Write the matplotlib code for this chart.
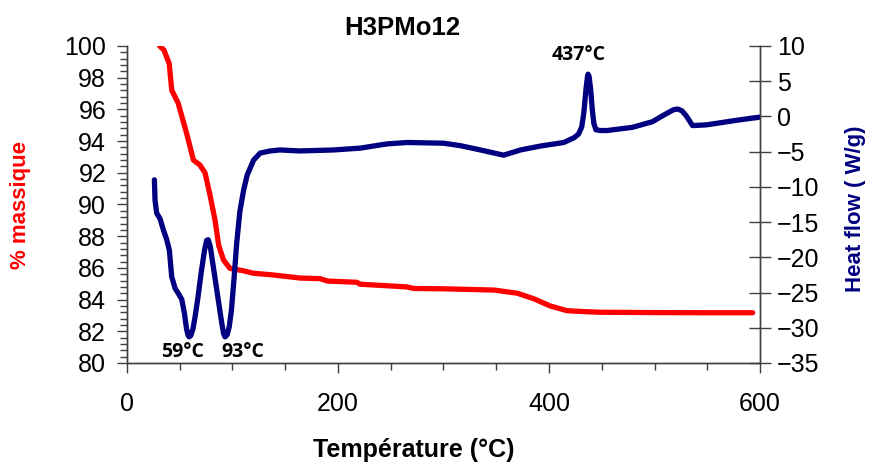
import numpy as np
import matplotlib
matplotlib.use('Agg')
import matplotlib.pyplot as plt
from matplotlib.ticker import MultipleLocator

# TGA curve: temperature (C) vs mass (%)
T_tga = [31, 35, 40, 42.5, 48.5, 56.5, 63, 69, 74, 79, 83.5, 87, 91.5, 97.5,
         110, 120, 139, 164, 183, 190, 218, 221, 265, 272, 300, 348, 370,
         386, 401, 417, 433, 449, 500, 550, 593]
m_tga = [100, 99.75, 98.9, 97.2, 96.4, 94.5, 92.8, 92.5, 92.0, 90.5, 89.0,
         87.4, 86.5, 85.97, 85.82, 85.66, 85.55, 85.36, 85.32, 85.17, 85.09,
         84.97, 84.8, 84.7, 84.68, 84.6, 84.4, 84.04, 83.6, 83.3, 83.24, 83.2,
         83.18, 83.17, 83.17]

# DSC curve: temperature (C) vs heat flow (W/g)
T_dsc = [26, 26.6, 28.2, 31.3, 34.5, 37.7, 40.2, 42.4, 45.6, 49, 52, 54.5,
         56.5, 58, 59, 60.5, 62.5, 64.5, 67, 70.5, 73.5, 75.5, 77, 79, 82, 86,
         89.5, 91.5, 93, 95, 97, 99, 101.5, 104, 107, 110.5, 114, 120, 126.3,
         135.8, 145, 164, 196, 221, 246.5, 265.5, 300, 316, 335, 357, 373, 392,
         414, 424, 428, 431, 433, 435, 436.5, 437, 438, 439.5, 441, 442.5,
         444.5, 449, 455, 479, 498, 510, 518, 522, 526, 530, 536, 549, 580,
         600]
h_dsc = [-9.0, -11.9, -13.75, -14.5, -16.1, -17.5, -19.0, -22.75, -24.4,
         -25.2, -26.0, -28.0, -30.2, -31.1, -31.3, -31.1, -30.2, -28.5, -26.0,
         -22.0, -19.0, -17.6, -17.5, -18.5, -21.5, -25.5, -29.0, -30.8, -31.3,
         -31.0, -29.8, -27.5, -23.0, -18.0, -13.5, -10.5, -8.3, -6.2, -5.2,
         -4.9, -4.76, -4.9, -4.76, -4.5, -3.9, -3.7, -3.8, -4.15, -4.76, -5.5,
         -4.76, -4.2, -3.7, -3.0, -2.5, -1.5, 0.5, 3.8, 5.7, 6.0, 5.7, 3.8,
         1.0, -1.0, -1.9, -2.0, -2.0, -1.55, -0.75, 0.3, 0.95, 1.05, 0.8, 0.1,
         -1.3, -1.2, -0.5, -0.1]

peak_T = [59, 93, 437]
peak_lbl_xy = [(53, -33.4), (110, -33.4), (428, 8.7)]

title = 'H3PMo12'
xlabel = 'Température (°C)'
ylabel_left = '% massique'
ylabel_right = 'Heat flow ( W/g)'

plt.rcParams['font.family'] = ['Liberation Sans', 'DejaVu Sans']

fig = plt.figure(figsize=(8.72, 4.65), dpi=100)
ax = fig.add_axes([0.1456, 0.2194, 0.8716 - 0.1456, 0.9011 - 0.2194])
ax2 = ax.twinx()

ax.plot(T_tga, m_tga, color='#ff0000', lw=3.8, solid_capstyle='round',
        solid_joinstyle='round')
ax2.plot(T_dsc, h_dsc, color='#000080', lw=3.8, solid_capstyle='round',
         solid_joinstyle='round')

ax.set_xlim(0, 600)
ax.set_ylim(80, 100)
ax2.set_ylim(-35, 10)

ax.xaxis.set_major_locator(MultipleLocator(200))
ax.xaxis.set_minor_locator(MultipleLocator(50))
ax.yaxis.set_major_locator(MultipleLocator(2))
ax.yaxis.set_minor_locator(MultipleLocator(0.4))
ax2.yaxis.set_major_locator(MultipleLocator(5))

spine_c = '#404040'
for a in (ax, ax2):
    a.spines['top'].set_visible(False)
    for s in a.spines.values():
        s.set_color(spine_c)
        s.set_linewidth(1.0)

ax.tick_params(axis='both', which='major', direction='out', length=7,
               width=1, color=spine_c, labelsize=18, pad=8)
ax.tick_params(axis='both', which='minor', direction='out', length=5,
               width=1, color=spine_c)
ax.tick_params(axis='x', which='major', pad=14)
ax2.tick_params(axis='y', which='major', direction='inout', length=16,
                width=1, color=spine_c, labelsize=18, pad=4)

for t, (x, y) in zip(peak_T, peak_lbl_xy):
    ax2.text(x, y, f'{t}°C', ha='center', va='center', fontsize=14,
             fontweight='bold', family=['Open Sans', 'DejaVu Sans'])

fig.text(0.461, 0.94, title, ha='center', va='center', fontsize=18.5,
         fontweight='bold')
fig.text(0.475, 0.032, xlabel, ha='center', va='center', fontsize=18,
         fontweight='bold')
fig.text(0.023, 0.56, ylabel_left, ha='center', va='center', rotation=90,
         fontsize=16, fontweight='bold', color='#ff0000')
fig.text(0.981, 0.55, ylabel_right, ha='center', va='center', rotation=90,
         fontsize=16, fontweight='bold', color='#000080')

fig.savefig('out.png', dpi=100)
